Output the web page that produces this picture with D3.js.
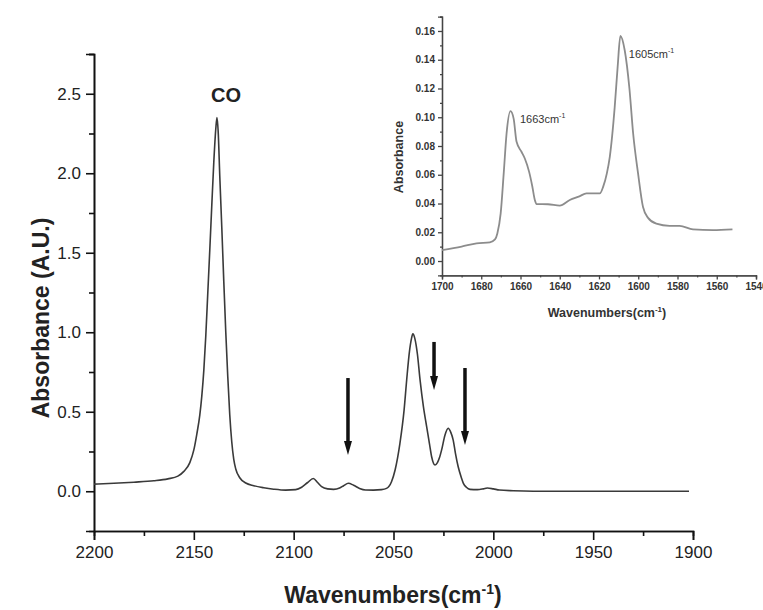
<!DOCTYPE html>
<html>
<head>
<meta charset="utf-8">
<script src="https://cdn.jsdelivr.net/npm/d3@7"></script>
<style>
  body { margin: 0; background: #fff; }
  svg { display: block; font-family: "Liberation Sans", Arial, sans-serif; }
</style>
</head>
<body>
<svg id="chart" width="763" height="610"></svg>
<script>
// main spectrum
var mainWavenumber = [2200, 2190, 2180, 2170, 2163, 2158, 2155, 2152, 2150, 2148.5, 2147, 2146, 2145, 2144, 2143, 2142, 2141, 2140, 2139, 2138.4, 2137.8, 2137, 2136, 2135, 2134, 2133, 2132, 2131, 2130, 2129, 2127, 2124, 2120, 2115, 2110, 2104, 2099, 2096, 2093, 2090.2, 2088, 2086, 2083, 2080, 2077, 2075, 2072.6, 2070, 2067, 2064, 2060, 2056, 2053.5, 2051, 2049.2, 2046.8, 2044.7, 2043.4, 2042, 2041, 2040.3, 2039.3, 2038, 2036.7, 2035, 2033.4, 2032, 2030.9, 2029.2, 2028, 2027, 2025.9, 2024.2, 2022.6, 2021.3, 2020.1, 2019, 2017.6, 2016, 2015, 2013.5, 2011.7, 2008, 2005, 2003, 2000, 1997, 1990, 1980, 1960, 1940, 1920, 1902];
var mainAbsorbance = [0.045, 0.050, 0.057, 0.066, 0.078, 0.095, 0.125, 0.18, 0.26, 0.36, 0.48, 0.6, 0.76, 0.98, 1.25, 1.52, 1.8, 2.07, 2.28, 2.35, 2.26, 1.98, 1.66, 1.32, 1.0, 0.72, 0.48, 0.31, 0.2, 0.14, 0.085, 0.052, 0.035, 0.022, 0.013, 0.007, 0.01, 0.025, 0.055, 0.08, 0.055, 0.029, 0.015, 0.012, 0.02, 0.035, 0.05, 0.038, 0.018, 0.008, 0.007, 0.01, 0.018, 0.06, 0.134, 0.30, 0.51, 0.70, 0.88, 0.96, 0.99, 0.96, 0.86, 0.70, 0.53, 0.406, 0.30, 0.217, 0.165, 0.18, 0.21, 0.26, 0.354, 0.396, 0.37, 0.322, 0.24, 0.154, 0.085, 0.05, 0.025, 0.012, 0.01, 0.015, 0.02, 0.015, 0.008, 0.003, 0.0, 0.0, 0.0, 0.0, 0.0];

// inset spectrum
var insetWavenumber = [1700, 1690, 1682.4, 1675.6, 1673, 1671.8, 1670.1, 1668.5, 1667.1, 1665.1, 1663.5, 1662, 1659.5, 1657.8, 1655.6, 1654, 1652.7, 1651.8, 1646, 1640, 1634.9, 1630, 1626.4, 1619.6, 1617.9, 1616, 1614.5, 1612, 1610.5, 1609.1, 1606.9, 1604.5, 1602.6, 1600.1, 1597.6, 1595, 1590.8, 1584, 1578.9, 1572.1, 1561.9, 1552];
var insetAbsorbance = [0.0076, 0.010, 0.0123, 0.013, 0.015, 0.0192, 0.0331, 0.062, 0.0887, 0.1042, 0.099, 0.0829, 0.076, 0.0713, 0.062, 0.052, 0.0424, 0.0396, 0.0395, 0.0385, 0.0424, 0.045, 0.047, 0.047, 0.0516, 0.061, 0.0725, 0.107, 0.135, 0.1565, 0.1466, 0.12, 0.0887, 0.0609, 0.0377, 0.03, 0.026, 0.0245, 0.0245, 0.022, 0.0215, 0.022];

var mainXTicks = [2200, 2150, 2100, 2050, 2000, 1950, 1900];
var mainYTicks = [0.0, 0.5, 1.0, 1.5, 2.0, 2.5];
var insetXTicks = [1700, 1680, 1660, 1640, 1620, 1600, 1580, 1560, 1540];
var insetYTicks = [0.00, 0.02, 0.04, 0.06, 0.08, 0.10, 0.12, 0.14, 0.16];

// arrows: wavenumber, start and tip absorbance
var arrowWavenumber = [2072.8, 2029.7, 2014.2];
var arrowFrom = [0.712, 0.939, 0.775];
var arrowTo = [0.228, 0.637, 0.291];

var svg = d3.select("#chart");

var x = d3.scaleLinear().domain([2200, 1900]).range([94, 693]);
var y = d3.scaleLinear().domain([-0.25, 2.75]).range([531, 54]);

var xAxis = d3.axisBottom(x).tickValues(mainXTicks).tickSize(9).tickPadding(6).tickFormat(d3.format("d"));
var xMinor = d3.axisBottom(x).tickValues(d3.range(2175, 1900, -50)).tickSize(5).tickFormat("");
var yAxis = d3.axisLeft(y).tickValues(mainYTicks).tickSize(8).tickPadding(5).tickFormat(d3.format(".1f"));
var yMinor = d3.axisLeft(y).tickValues(d3.range(0.25, 2.8, 0.5)).tickSize(5).tickFormat("");

function styleAxis(g, fs) {
  g.select(".domain").attr("stroke", "#111").attr("stroke-width", 1.6);
  g.selectAll(".tick line").attr("stroke", "#111").attr("stroke-width", 1.6);
  g.selectAll(".tick text").attr("fill", "#222").style("font-size", fs + "px");
}

svg.append("g").attr("transform", "translate(0,531)").call(xMinor).call(styleAxis, 17);
svg.append("g").attr("transform", "translate(0,531)").call(xAxis).call(styleAxis, 17);
svg.append("g").attr("transform", "translate(94,0)").call(yMinor).call(styleAxis, 17);
svg.append("g").attr("transform", "translate(94,0)").call(yAxis).call(styleAxis, 17);

var line = d3.line()
  .x(function(d, i) { return x(mainWavenumber[i]); })
  .y(function(d, i) { return y(mainAbsorbance[i]); })
  .curve(d3.curveMonotoneX);

svg.append("path")
  .datum(mainWavenumber)
  .attr("fill", "none")
  .attr("stroke", "#3a3a3a")
  .attr("stroke-width", 1.6)
  .attr("stroke-linejoin", "round")
  .attr("d", line);

// arrows
arrowWavenumber.forEach(function(w, i) {
  var ax = x(w), y0 = y(arrowFrom[i]), y1 = y(arrowTo[i]);
  svg.append("line")
    .attr("x1", ax).attr("x2", ax)
    .attr("y1", y0).attr("y2", y1 - 12)
    .attr("stroke", "#111").attr("stroke-width", 3.5);
  svg.append("path")
    .attr("d", "M" + (ax - 4) + "," + (y1 - 14) + "L" + (ax + 4) + "," + (y1 - 14) + "L" + ax + "," + y1 + "Z")
    .attr("fill", "#111");
});

svg.append("text")
  .attr("x", x(2133.9)).attr("y", y(2.448))
  .attr("text-anchor", "middle")
  .style("font-size", "20px").style("font-weight", "bold").attr("fill", "#222")
  .text("CO");

svg.append("text")
  .attr("transform", "translate(49,318) rotate(-90)")
  .attr("text-anchor", "middle")
  .style("font-size", "23px").style("font-weight", "bold").attr("fill", "#222")
  .text("Absorbance (A.U.)");

var xt = svg.append("text")
  .attr("x", 393).attr("y", 603)
  .attr("text-anchor", "middle")
  .style("font-size", "23px").style("font-weight", "bold").attr("fill", "#222");
xt.append("tspan").text("Wavenumbers(cm");
xt.append("tspan").attr("dy", -9).style("font-size", "14px").text("-1");
xt.append("tspan").attr("dy", 9).text(")");

// inset
var ix = d3.scaleLinear().domain([1700, 1540]).range([442, 756]);
var iy = d3.scaleLinear().domain([-0.01, 0.17]).range([275.4, 16.6]);

var ixAxis = d3.axisBottom(ix).tickValues(insetXTicks).tickSize(4).tickPadding(4).tickFormat(d3.format("d"));
var ixMinor = d3.axisBottom(ix).tickValues(d3.range(1690, 1540, -20)).tickSize(2).tickFormat("");
var iyAxis = d3.axisLeft(iy).tickValues(insetYTicks).tickSize(4).tickPadding(3).tickFormat(d3.format(".2f"));
var iyMinor = d3.axisLeft(iy).tickValues(d3.range(0.01, 0.175, 0.02)).tickSize(2).tickFormat("");

function styleInset(g) {
  g.select(".domain").attr("stroke", "#444").attr("stroke-width", 1.3);
  g.selectAll(".tick line").attr("stroke", "#444").attr("stroke-width", 1.3);
  g.selectAll(".tick text").attr("fill", "#333").style("font-size", "10px").style("font-weight", "bold");
}

svg.append("g").attr("transform", "translate(0,275.4)").call(ixMinor).call(styleInset);
svg.append("g").attr("transform", "translate(0,275.4)").call(ixAxis).call(styleInset);
svg.append("g").attr("transform", "translate(442,0)").call(iyMinor).call(styleInset);
svg.append("g").attr("transform", "translate(442,0)").call(iyAxis).call(styleInset);

var iline = d3.line()
  .x(function(d, i) { return ix(insetWavenumber[i]); })
  .y(function(d, i) { return iy(insetAbsorbance[i]); })
  .curve(d3.curveMonotoneX);

svg.append("path")
  .datum(insetWavenumber)
  .attr("fill", "none")
  .attr("stroke", "#8c8c8c")
  .attr("stroke-width", 1.8)
  .attr("d", iline);

function peakLabel(w, a, txt) {
  var t = svg.append("text")
    .attr("x", ix(w)).attr("y", iy(a))
    .style("font-size", "11px").attr("fill", "#333");
  t.append("tspan").text(txt);
  t.append("tspan").attr("dy", -5).style("font-size", "7px").text("-1");
}
peakLabel(1660.3, 0.096, "1663cm");
peakLabel(1604.8, 0.141, "1605cm");

svg.append("text")
  .attr("transform", "translate(403,157) rotate(-90)")
  .attr("text-anchor", "middle")
  .style("font-size", "12.5px").style("font-weight", "bold").attr("fill", "#333")
  .text("Absorbance");

var ixt = svg.append("text")
  .attr("x", 607).attr("y", 317)
  .attr("text-anchor", "middle")
  .style("font-size", "12.5px").style("font-weight", "bold").attr("fill", "#333");
ixt.append("tspan").text("Wavenumbers(cm");
ixt.append("tspan").attr("dy", -5).style("font-size", "8px").text("-1");
ixt.append("tspan").attr("dy", 5).text(")");
</script>
</body>
</html>
